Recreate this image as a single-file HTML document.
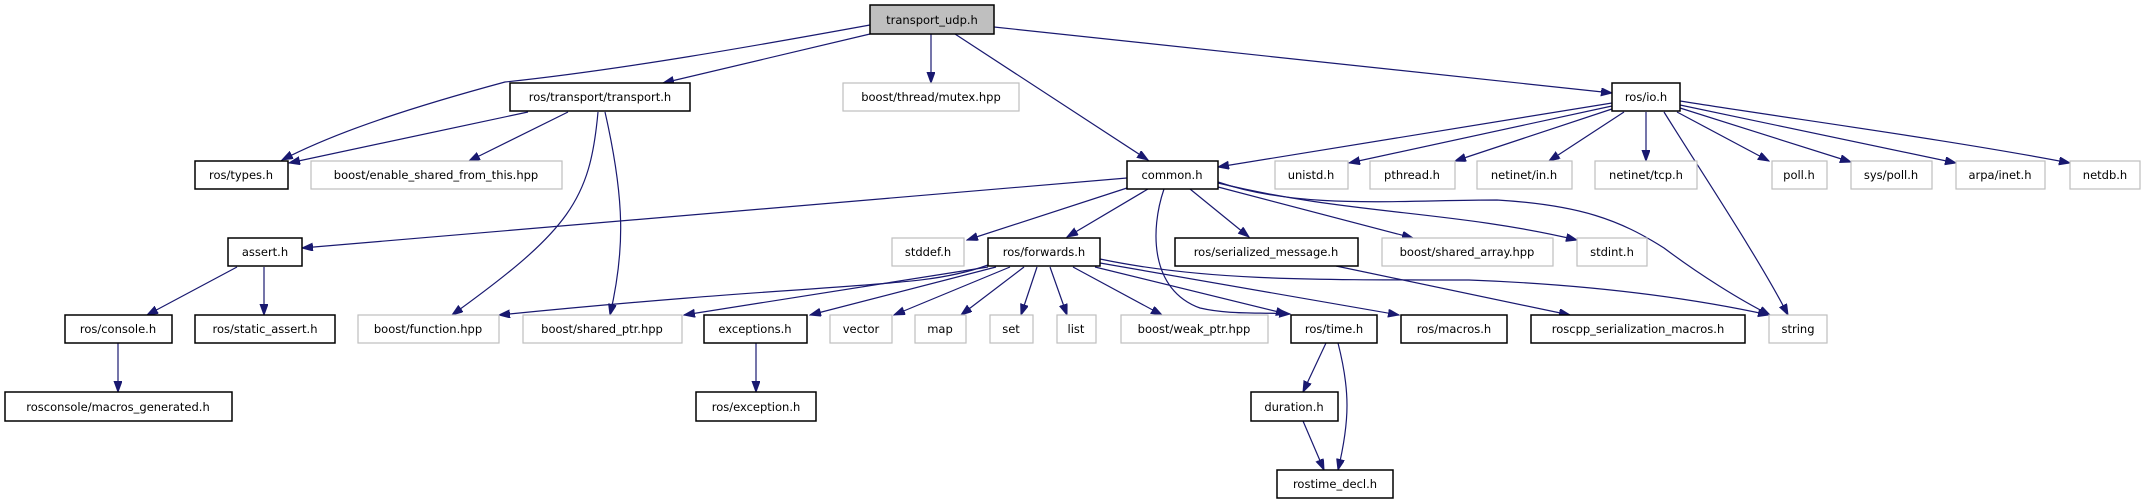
<!DOCTYPE html>
<html><head><meta charset="utf-8"><style>
html,body{margin:0;padding:0;background:#fff;}
svg{display:block;}
text{font-family:"DejaVu Sans","Liberation Sans",sans-serif;font-size:11.5px;fill:#000;}
.e{fill:none;stroke:#191970;stroke-width:1.2;}
.b{fill:#fff;stroke:#000;stroke-width:1.5;}
.g{fill:#fff;stroke:#bfbfbf;stroke-width:1.2;}
</style></head><body>
<svg width="2145" height="504" viewBox="0 0 2145 504" xmlns="http://www.w3.org/2000/svg">
<defs><marker id="a" markerUnits="userSpaceOnUse" markerWidth="12" markerHeight="10" refX="11" refY="4" orient="auto"><path d="M0,0 L11,4 L0,8 z" fill="#191970" stroke="#191970"/></marker></defs>
<g marker-end="url(#a)">
<path class="e" d="M870,25 C760,45 620,70 505,82 C420,105 340,130 282,160"/>
<path class="e" d="M870,34 L663,83"/>
<path class="e" d="M931,34 L931,83"/>
<path class="e" d="M955,34 L1148,160"/>
<path class="e" d="M994,27 L1612,93"/>
<path class="e" d="M528,112 L289,163"/>
<path class="e" d="M568,112 L469,161"/>
<path class="e" d="M598,112 C590,200 570,230 452,315"/>
<path class="e" d="M605,112 C625,200 625,250 610,315"/>
<path class="e" d="M1127,178 L302,248"/>
<path class="e" d="M1127,188 L967,240"/>
<path class="e" d="M1148,189 L1067,237"/>
<path class="e" d="M1164,189 C1150,230 1150,290 1200,308 C1230,315 1260,312 1290,314"/>
<path class="e" d="M1190,189 L1249,237"/>
<path class="e" d="M1218,187 L1413,238"/>
<path class="e" d="M1218,183 C1350,215 1450,210 1577,240"/>
<path class="e" d="M1218,182 C1300,210 1400,200 1497,200 C1580,205 1620,220 1664,248 C1700,275 1740,300 1770,315"/>
<path class="e" d="M988,265 C920,290 850,280 499,315"/>
<path class="e" d="M988,267 L684,315"/>
<path class="e" d="M996,267 L810,315"/>
<path class="e" d="M1010,267 L894,315"/>
<path class="e" d="M1024,267 L961,315"/>
<path class="e" d="M1037,267 L1021,315"/>
<path class="e" d="M1050,267 L1067,315"/>
<path class="e" d="M1073,267 L1162,315"/>
<path class="e" d="M1095,267 L1287,314"/>
<path class="e" d="M1100,263 L1399,315"/>
<path class="e" d="M1100,259 C1200,280 1300,280 1469,280 C1600,285 1700,300 1769,315"/>
<path class="e" d="M1336,266 L1570,315"/>
<path class="e" d="M1612,103 L1218,167"/>
<path class="e" d="M1612,106 L1349,163"/>
<path class="e" d="M1615,108 L1455,161"/>
<path class="e" d="M1624,112 L1549,161"/>
<path class="e" d="M1646,112 L1646,161"/>
<path class="e" d="M1664,112 C1700,170 1760,260 1788,315"/>
<path class="e" d="M1677,112 L1769,161"/>
<path class="e" d="M1680,108 L1851,162"/>
<path class="e" d="M1680,105 L1956,163"/>
<path class="e" d="M1680,101 C1800,120 1950,140 2070,163"/>
<path class="e" d="M237,267 L147,315"/>
<path class="e" d="M264,267 L264,315"/>
<path class="e" d="M118,343 L118,392"/>
<path class="e" d="M756,343 L756,392"/>
<path class="e" d="M1326,343 L1303,392"/>
<path class="e" d="M1338,343 C1350,390 1350,420 1338,470"/>
<path class="e" d="M1303,421 L1324,470"/>
</g>
<g text-anchor="middle">
<rect x="870" y="5" width="124" height="29" fill="#bfbfbf" stroke="#000" stroke-width="1.5"/><text x="932" y="24">transport_udp.h</text>
<rect class="b" x="510" y="83" width="180" height="28"/><text x="600" y="101">ros/transport/transport.h</text>
<rect class="g" x="843" y="83" width="176" height="28"/><text x="931" y="101">boost/thread/mutex.hpp</text>
<rect class="b" x="1612" y="83" width="68" height="28"/><text x="1646" y="101">ros/io.h</text>
<rect class="b" x="195" y="161" width="93" height="28"/><text x="241" y="179">ros/types.h</text>
<rect class="g" x="311" y="161" width="251" height="28"/><text x="436" y="179">boost/enable_shared_from_this.hpp</text>
<rect class="b" x="1127" y="161" width="91" height="28"/><text x="1172" y="179">common.h</text>
<rect class="g" x="1275" y="161" width="73" height="28"/><text x="1311" y="179">unistd.h</text>
<rect class="g" x="1370" y="161" width="85" height="28"/><text x="1412" y="179">pthread.h</text>
<rect class="g" x="1477" y="161" width="95" height="28"/><text x="1524" y="179">netinet/in.h</text>
<rect class="g" x="1595" y="161" width="102" height="28"/><text x="1646" y="179">netinet/tcp.h</text>
<rect class="g" x="1772" y="161" width="55" height="28"/><text x="1799" y="179">poll.h</text>
<rect class="g" x="1851" y="161" width="81" height="28"/><text x="1891" y="179">sys/poll.h</text>
<rect class="g" x="1956" y="161" width="89" height="28"/><text x="2000" y="179">arpa/inet.h</text>
<rect class="g" x="2070" y="161" width="70" height="28"/><text x="2105" y="179">netdb.h</text>
<rect class="b" x="228" y="238" width="74" height="28"/><text x="265" y="256">assert.h</text>
<rect class="g" x="892" y="238" width="72" height="28"/><text x="928" y="256">stddef.h</text>
<rect class="b" x="988" y="238" width="112" height="28"/><text x="1044" y="256">ros/forwards.h</text>
<rect class="b" x="1175" y="238" width="183" height="28"/><text x="1266" y="256">ros/serialized_message.h</text>
<rect class="g" x="1382" y="238" width="171" height="28"/><text x="1467" y="256">boost/shared_array.hpp</text>
<rect class="g" x="1577" y="238" width="70" height="28"/><text x="1612" y="256">stdint.h</text>
<rect class="b" x="65" y="315" width="107" height="28"/><text x="118" y="333">ros/console.h</text>
<rect class="b" x="195" y="315" width="140" height="28"/><text x="265" y="333">ros/static_assert.h</text>
<rect class="g" x="358" y="315" width="141" height="28"/><text x="428" y="333">boost/function.hpp</text>
<rect class="g" x="523" y="315" width="159" height="28"/><text x="602" y="333">boost/shared_ptr.hpp</text>
<rect class="b" x="704" y="315" width="103" height="28"/><text x="755" y="333">exceptions.h</text>
<rect class="g" x="830" y="315" width="62" height="28"/><text x="861" y="333">vector</text>
<rect class="g" x="915" y="315" width="51" height="28"/><text x="940" y="333">map</text>
<rect class="g" x="990" y="315" width="43" height="28"/><text x="1011" y="333">set</text>
<rect class="g" x="1057" y="315" width="39" height="28"/><text x="1076" y="333">list</text>
<rect class="g" x="1121" y="315" width="147" height="28"/><text x="1194" y="333">boost/weak_ptr.hpp</text>
<rect class="b" x="1291" y="315" width="86" height="28"/><text x="1334" y="333">ros/time.h</text>
<rect class="b" x="1401" y="315" width="106" height="28"/><text x="1454" y="333">ros/macros.h</text>
<rect class="b" x="1531" y="315" width="214" height="28"/><text x="1638" y="333">roscpp_serialization_macros.h</text>
<rect class="g" x="1769" y="315" width="58" height="28"/><text x="1798" y="333">string</text>
<rect class="b" x="5" y="392" width="227" height="29"/><text x="118" y="411">rosconsole/macros_generated.h</text>
<rect class="b" x="696" y="392" width="120" height="29"/><text x="756" y="411">ros/exception.h</text>
<rect class="b" x="1251" y="392" width="87" height="29"/><text x="1294" y="411">duration.h</text>
<rect class="b" x="1277" y="470" width="116" height="28"/><text x="1335" y="488">rostime_decl.h</text>
</g>
</svg>
</body></html>
